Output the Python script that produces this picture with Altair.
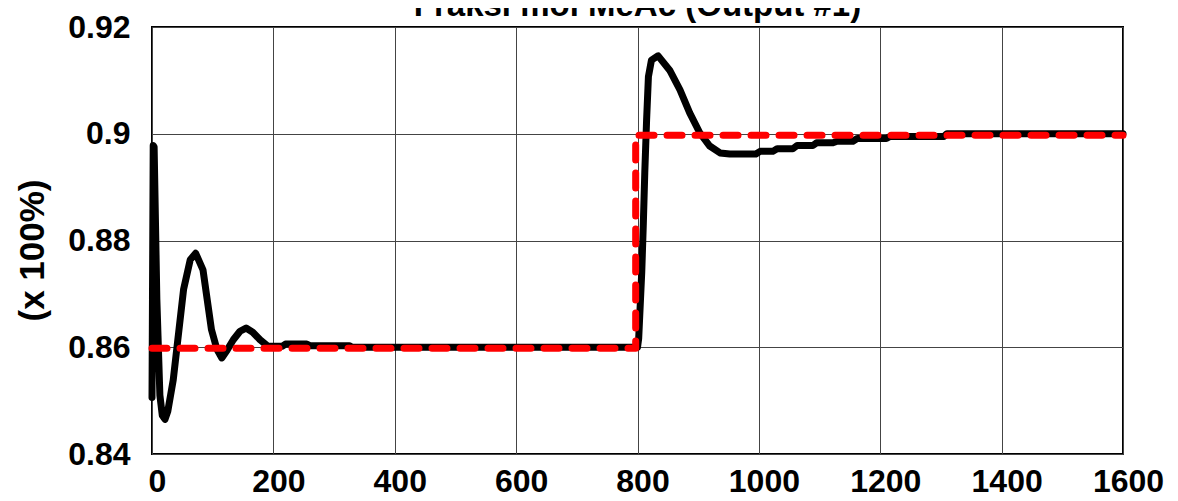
import altair as alt
import pandas as pd

# Process output (black solid line)
pv_t = [0, 2, 3.5, 8, 13, 17, 21.4, 26, 35, 52, 63, 72, 84, 98, 107, 115, 124, 134, 145, 155,
        166, 178, 191, 215, 220, 255, 260, 325, 330, 800, 802, 807, 809.5, 812, 815, 818, 823,
        834, 853, 870, 886, 903, 919, 936, 952, 995, 1002, 1023, 1030, 1056, 1063, 1089, 1095,
        1122, 1129, 1155, 1162, 1210, 1216, 1305, 1310, 1600]
pv_v = [0.8506, 0.8978, 0.8975, 0.8690, 0.8510, 0.8472, 0.8465, 0.8480, 0.8539, 0.8708, 0.8764,
        0.8776, 0.8745, 0.8633, 0.8596, 0.8580, 0.8595, 0.8614, 0.8630, 0.8636, 0.8628, 0.8614,
        0.8602, 0.8602, 0.8606, 0.8606, 0.8603, 0.8603, 0.8600, 0.8600, 0.8617, 0.8741, 0.8828,
        0.8927, 0.9026, 0.9107, 0.9138, 0.9146, 0.9119, 0.9082, 0.9039, 0.9001, 0.8977, 0.8964,
        0.8962, 0.8962, 0.8967, 0.8967, 0.8972, 0.8972, 0.8978, 0.8978, 0.8983, 0.8983, 0.8986,
        0.8986, 0.8991, 0.8991, 0.8995, 0.8995, 0.9000, 0.9000]

# Set point (red dashed line)
sp_t = [0, 797, 797, 1600]
sp_v = [0.8598, 0.8598, 0.8997, 0.8997]

x_ticks = [0, 200, 400, 600, 800, 1000, 1200, 1400, 1600]
y_ticks = [0.84, 0.86, 0.88, 0.9, 0.92]

pv = pd.DataFrame({"t": pv_t, "v": pv_v, "i": list(range(len(pv_t)))})
sp = pd.DataFrame({"t": sp_t, "v": sp_v, "i": list(range(len(sp_t)))})

FONT = "Liberation Sans"

x_enc = alt.X("t:Q", scale=alt.Scale(domain=[0, 1600], nice=False),
              axis=alt.Axis(values=x_ticks, format="d", title=None, labelFontSize=32,
                            labelFontWeight="bold", labelFont=FONT, labelColor="black",
                            labelPadding=12, labelOffset=5, ticks=False, tickSize=0,
                            domain=False, grid=True, gridColor="#444", gridWidth=1,
                            labelFlush=False, labelOverlap=False))
y_enc = alt.Y("v:Q", scale=alt.Scale(domain=[0.84, 0.92], nice=False, zero=False),
              axis=alt.Axis(values=y_ticks, format=".2~f", title="(x 100%)",
                            labelFontSize=32, labelFontWeight="bold", labelFont=FONT,
                            labelColor="black", labelPadding=22, ticks=False, tickSize=0,
                            domain=False, grid=True, gridColor="#444", gridWidth=1,
                            labelFlush=False, labelOverlap=False,
                            titleFontSize=35, titleFont=FONT, titleFontWeight="bold",
                            titleColor="black", titleAngle=-90, titleX=-109, titleY=223,
                            titleAlign="center", titleBaseline="alphabetic"))

black = alt.Chart(pv).mark_line(color="black", strokeWidth=7, strokeJoin="round",
                                strokeCap="round").encode(
    x=x_enc, y=y_enc, order="i:Q")

red = alt.Chart(sp).mark_line(color="#ff0000", strokeWidth=7, strokeDash=[15, 13],
                              strokeCap="round", strokeJoin="round").encode(
    x=alt.X("t:Q"), y=alt.Y("v:Q"), order="i:Q")

chart = alt.layer(black, red).properties(
    width=971, height=427,
    autosize=alt.AutoSizeParams(type="none"),
    padding={"left": 144, "top": 19, "right": 47, "bottom": 47},
    title=alt.TitleParams("Fraksi mol MeAc (Output #1)", fontSize=33, font=FONT,
                          fontWeight="bold", color="black", anchor="middle",
                          baseline="alphabetic", offset=0, dy=38),
).configure_view(stroke="black", strokeWidth=2)

chart.save("out.html", embed_options={"renderer": "svg", "actions": False})
